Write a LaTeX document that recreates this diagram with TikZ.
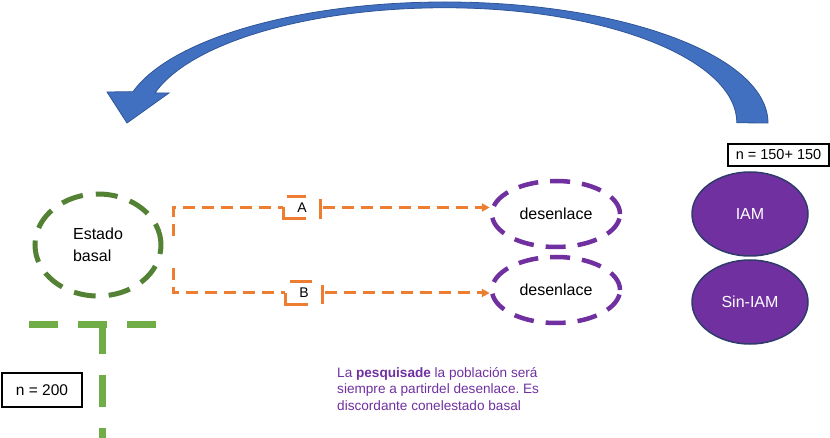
\documentclass[tikz,border=0pt]{standalone}
\usepackage{fontspec}
\setmainfont{Liberation Sans}
\usetikzlibrary{arrows.meta,shapes.geometric}
\definecolor{arrowblue}{HTML}{4270C0}
\definecolor{arrowedge}{HTML}{2F5597}
\definecolor{dkgreen}{HTML}{548235}
\definecolor{ltgreen}{HTML}{70AD47}
\definecolor{orng}{HTML}{ED7D31}
\definecolor{purp}{HTML}{7030A0}
\definecolor{navyedge}{HTML}{2F3B6B}
\frenchspacing
\begin{document}
\begin{tikzpicture}[x=1pt,y=-1pt,
  lbl/.style={font=\fontsize{16}{22}\selectfont},
  basalell/.style={ellipse, draw=dkgreen, line width=5pt, dash pattern=on 22pt off 13pt,
     minimum width=126pt, minimum height=102pt, inner sep=0pt, lbl, align=left},
  outell/.style={ellipse, draw=purp, line width=4.5pt, dash pattern=on 20pt off 12pt,
     minimum width=128pt, minimum height=66pt, inner sep=0pt, lbl},
  groupell/.style={ellipse, fill=purp, draw=navyedge, line width=1.5pt,
     minimum width=116pt, minimum height=84pt, inner sep=0pt, lbl, text=white},
  nbox/.style={rectangle, draw=black, line width=1.6pt, inner sep=0pt},
  lettbox/.style={rectangle, minimum width=37pt, minimum height=22pt, inner sep=0pt,
     font=\fontsize{14}{16}\selectfont},
  orconn/.style={draw=orng, line width=3pt, dash pattern=on 12pt off 7pt},
  orline/.style={draw=orng, line width=3pt},
  orarrow/.style={orconn, -{Triangle[length=8pt,width=8pt]}},
  greenline/.style={draw=ltgreen, line width=7pt}
]
\useasboundingbox (0,0) rectangle (830,438);

% big curved arrow
\filldraw[fill=arrowblue, draw=arrowedge, line width=0.8pt]
  (768,123) arc[start angle=0,end angle=-90,x radius=323,y radius=121]
  arc[start angle=-90,end angle=-165,x radius=323,y radius=121]
  -- (107,92) -- (127,123) -- (169,93) -- (155,93)
  arc[start angle=-165,end angle=-90,x radius=300,y radius=115]
  arc[start angle=-90,end angle=0,x radius=292,y radius=115] -- cycle;

% nodes
\node[basalell] (eb) at (98,245) {Estado\\basal};
\node[outell] (d1) at (556,214) {desenlace};
\node[outell] (d2) at (556,290) {desenlace};
\node[groupell] (iam) at (750,214) {IAM};
\node[groupell] (siam) at (750,302) {Sin-IAM};
\node[nbox, minimum width=101pt, minimum height=22pt, font=\fontsize{14.5}{17}\selectfont] (n150) at (778.5,155) {n = 150+ 150};
\node[nbox, minimum width=80pt, minimum height=34pt, font=\fontsize{15.5}{18}\selectfont] (n200) at (42,390) {n = 200};
\node[lettbox] (A) at (302,207.5) {A};
\node[lettbox] (B) at (304,293) {B};
\node[anchor=north west, align=left, text=purp, font=\fontsize{13.6}{16.5}\selectfont, inner sep=0pt] (note) at (337,367)
  {La \textbf{pesquisade} la población será\\siempre a partirdel desenlace. Es\\discordante conelestado basal};

% partial dashed borders of the letter boxes
\draw[orline] ([xshift=4pt]A.north west) -- ([xshift=-15pt]A.north east);
\draw[orline] (A.west) -- (A.south west) -- ([xshift=-15pt]A.south east);
\draw[orline] ([yshift=-3pt]A.north east) -- (A.south east);
\draw[orline] ([xshift=5pt]B.north west) -- ([xshift=-11pt]B.north east);
\draw[orline] (B.west) -- (B.south west) -- ([xshift=-15pt]B.south east);
\draw[orline] ([yshift=-3pt]B.north east) -- (B.south east);

% orange connectors
\coordinate (s1) at (173,236);
\coordinate (s2) at (173,268);
\draw[orconn] (s1) |- (A.west);
\draw[orarrow] ([xshift=2pt]A.east) -- (A.east -| d1.west);
\draw[orconn] (s2) |- (B.west);
\draw[orarrow] ([xshift=2pt]B.east) -- (B.east -| d2.west);

% green T
\coordinate (tl) at (29,325);
\coordinate (tr) at (157,325);
\coordinate (tm) at (102,321.5);
\coordinate (tb) at (102,440);
\draw[greenline, dash pattern=on 28.5pt off 20.5pt] (tl) -- (tr);
\draw[greenline, dash pattern=on 32pt off 21pt] (tm) -- (tb);
\end{tikzpicture}
\end{document}
